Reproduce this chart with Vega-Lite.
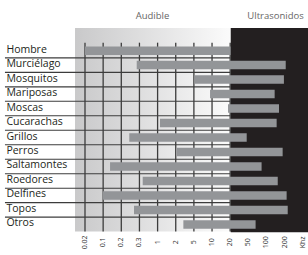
{
  "$schema": "https://vega.github.io/schema/vega-lite/v6.json",
  "autosize": {"type": "none"},
  "width": 308,
  "height": 255,
  "padding": 0,
  "background": "white",
  "config": {"view": {"stroke": null}},
  "datasets": {
    "animals": [
      {"animal": "Hombre", "row": 0, "lo": 0, "hi": 8.02},
      {"animal": "Murciélago", "row": 1, "lo": 2.85, "hi": 11.06},
      {"animal": "Mosquitos", "row": 2, "lo": 6.04, "hi": 10.96},
      {"animal": "Mariposas", "row": 3, "lo": 6.89, "hi": 10.45},
      {"animal": "Moscas", "row": 4, "lo": 7.88, "hi": 10.69},
      {"animal": "Cucarachas", "row": 5, "lo": 4.13, "hi": 10.56},
      {"animal": "Grillos", "row": 6, "lo": 2.44, "hi": 8.91},
      {"animal": "Perros", "row": 7, "lo": 5.05, "hi": 10.89},
      {"animal": "Saltamontes", "row": 8, "lo": 1.38, "hi": 9.73},
      {"animal": "Roedores", "row": 9, "lo": 3.18, "hi": 10.62},
      {"animal": "Delfines", "row": 10, "lo": 0.975, "hi": 11.11},
      {"animal": "Topos", "row": 11, "lo": 2.7, "hi": 11.17},
      {"animal": "Otros", "row": 12, "lo": 5.42, "hi": 9.4}
    ],
    "ticks": [
      {"i": 0, "label": "0.02"},
      {"i": 1, "label": "0.1"},
      {"i": 2, "label": "0.2"},
      {"i": 3, "label": "0.3"},
      {"i": 4, "label": "1"},
      {"i": 5, "label": "2"},
      {"i": 6, "label": "5"},
      {"i": 7, "label": "10"},
      {"i": 8, "label": "20"},
      {"i": 9, "label": "50"},
      {"i": 10, "label": "100"},
      {"i": 11, "label": "200"},
      {"i": 12, "label": "Khz"}
    ],
    "seps": [
      {"s": 0.5}, {"s": 1.5}, {"s": 2.5}, {"s": 3.5}, {"s": 4.5}, {"s": 5.5},
      {"s": 6.5}, {"s": 7.5}, {"s": 8.5}, {"s": 9.5}, {"s": 10.5}, {"s": 11.5}
    ],
    "headers": [
      {"title": "Audible", "hx": 3.72},
      {"title": "Ultrasonidos", "hx": 10.5}
    ],
    "one": [{"k": 1}]
  },
  "layer": [
    {
      "data": {"name": "one"},
      "mark": {"type": "rect", "color": {"gradient": "linear", "x1": 0, "y1": 0, "x2": 1, "y2": 0, "stops": [{"offset": 0, "color": "#c9c9ca"}, {"offset": 1, "color": "#fbfbfb"}]}},
      "encoding": {
        "x": {"datum": -0.55, "type": "quantitative", "scale": {"domain": [-4.683, 12.287], "nice": false, "zero": false}, "axis": null},
        "x2": {"datum": 8.03},
        "y": {"datum": -1.56, "type": "quantitative", "scale": {"domain": [-3.152, 13.769], "nice": false, "zero": false, "reverse": true}, "axis": null},
        "y2": {"datum": 12.49}
      }
    },
    {
      "data": {"name": "one"},
      "mark": {"type": "rect", "color": "#231f20"},
      "encoding": {
        "x": {"datum": 8.03, "type": "quantitative", "axis": null},
        "x2": {"datum": 13.5},
        "y": {"datum": -1.56, "type": "quantitative", "axis": null},
        "y2": {"datum": 12.54}
      }
    },
    {
      "data": {"name": "ticks"},
      "transform": [{"filter": "datum.i <= 8"}],
      "mark": {"type": "rule", "color": "#3c3c3c", "strokeWidth": 1.3},
      "encoding": {
        "x": {"field": "i", "type": "quantitative", "axis": null},
        "y": {"datum": -0.55, "type": "quantitative", "axis": null},
        "y2": {"datum": 12.49}
      }
    },
    {
      "data": {"name": "seps"},
      "mark": {"type": "rule", "color": "#3c3c3c", "strokeWidth": 1.1},
      "encoding": {
        "x": {"datum": -4.41, "type": "quantitative", "axis": null},
        "x2": {"datum": 8.0},
        "y": {"field": "s", "type": "quantitative", "axis": null}
      }
    },
    {
      "data": {"name": "animals"},
      "mark": {"type": "bar", "orient": "horizontal", "color": "#939598", "size": 8.5},
      "encoding": {
        "x": {"field": "lo", "type": "quantitative", "axis": null},
        "x2": {"field": "hi"},
        "y": {"field": "row", "type": "quantitative", "axis": null}
      }
    },
    {
      "data": {"name": "animals"},
      "mark": {"type": "text", "align": "left", "baseline": "middle", "font": "Open Sans", "fontSize": 10.5, "color": "#231f20", "dy": -1},
      "encoding": {
        "x": {"datum": -4.33, "type": "quantitative", "axis": null},
        "y": {"field": "row", "type": "quantitative", "axis": null},
        "text": {"field": "animal"}
      }
    },
    {
      "data": {"name": "ticks"},
      "mark": {"type": "text", "align": "center", "baseline": "middle", "angle": 270, "font": "Open Sans", "fontSize": 7, "color": "#333333"},
      "encoding": {
        "x": {"field": "i", "type": "quantitative", "axis": null},
        "y": {"datum": 13.24, "type": "quantitative", "axis": null},
        "text": {"field": "label"}
      }
    },
    {
      "data": {"name": "headers"},
      "mark": {"type": "text", "align": "center", "baseline": "middle", "font": "Open Sans", "fontSize": 9.5, "color": "#666666"},
      "encoding": {
        "x": {"field": "hx", "type": "quantitative", "axis": null},
        "y": {"datum": -2.38, "type": "quantitative", "axis": null},
        "text": {"field": "title"}
      }
    }
  ]
}
